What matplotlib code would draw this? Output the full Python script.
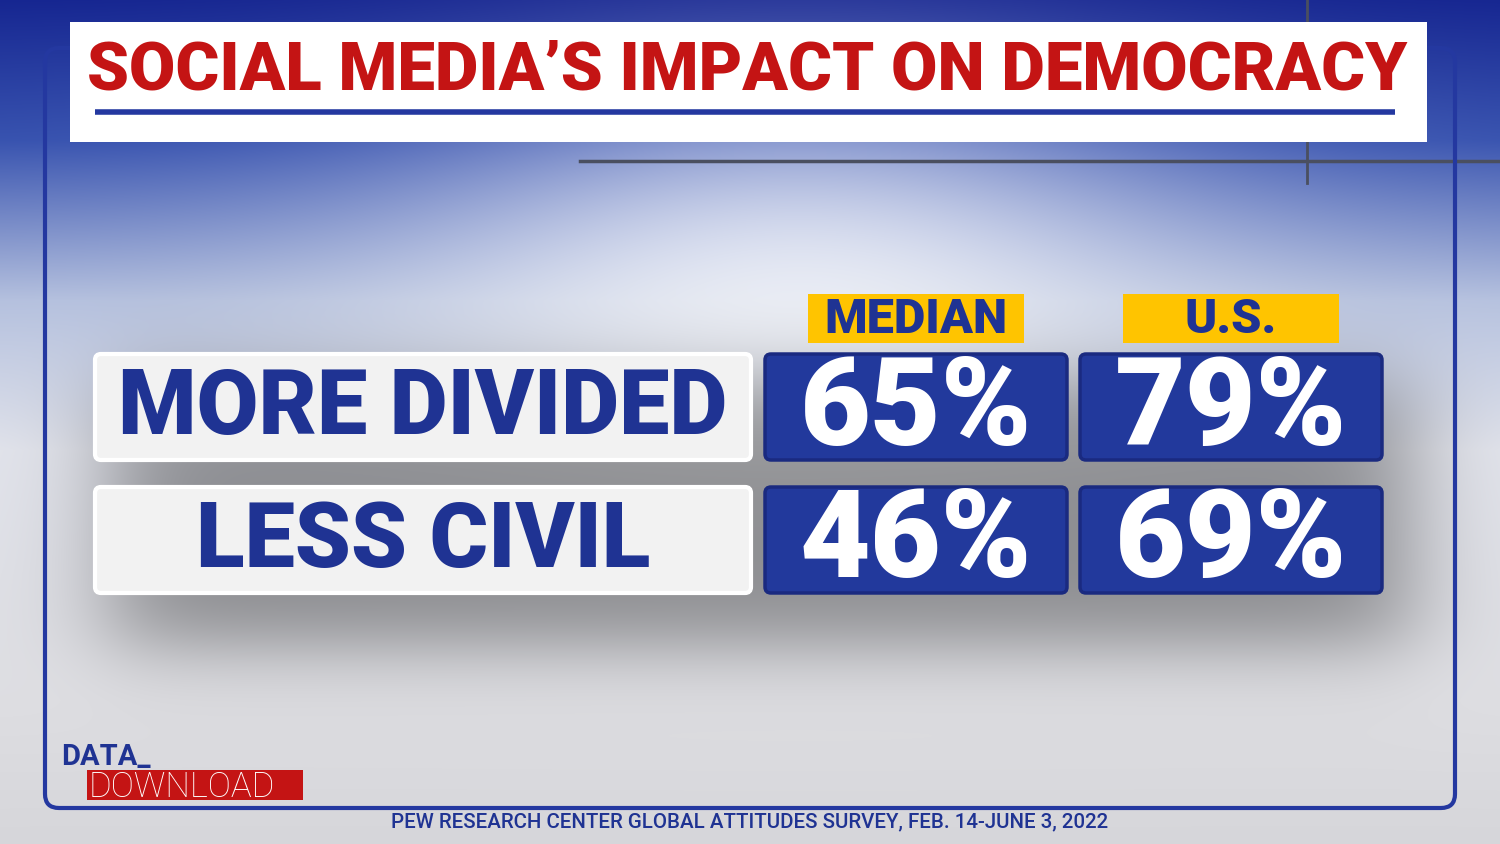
import numpy as np
import matplotlib
matplotlib.use("Agg")
import matplotlib.pyplot as plt
from matplotlib.patches import FancyBboxPatch, Rectangle

# data
title = "SOCIAL MEDIA\u2019S IMPACT ON DEMOCRACY"
columns = ["MEDIAN", "U.S."]
rows = ["MORE DIVIDED", "LESS CIVIL"]
values = [[65, 79],
          [46, 69]]
source = "PEW RESEARCH CENTER GLOBAL ATTITUDES SURVEY, FEB. 14-JUNE 3, 2022"

NAVY = "#1f3393"
RED = "#c41414"
YELLOW = "#ffc400"

W, H = 1500, 844
fig = plt.figure(figsize=(15, 8.44), dpi=100)
ax = fig.add_axes([0, 0, 1, 1])
ax.set_xlim(0, W)
ax.set_ylim(H, 0)
ax.axis("off")

# background: blue at the top fading to light grey, glow in the middle
yy = np.arange(H)[:, None].astype(float)
xx = np.arange(W)[None, :].astype(float)
stops_y = [0, 140, 300, 450, 700, 844]
stops_c = np.array([[22, 38, 145], [55, 82, 175], [180, 192, 222],
                    [226, 228, 236], [222, 222, 226], [214, 214, 218]]) / 255.0
bg = np.zeros((H, W, 3))
for k in range(3):
    bg[:, :, k] = np.interp(yy[:, 0], stops_y, stops_c[:, k])[:, None]
glow = np.exp(-(((xx - 800) / 400) ** 2 + ((yy - 300) / 210) ** 2))
bg = bg + (1 - bg) * 0.75 * glow[:, :, None]
sig = lambda t: 1 / (1 + np.exp(-t))
shadow = (sig((xx - 110) / 30) * sig((1410 - xx) / 30) *
          sig((yy - 380) / 25) * sig((645 - yy) / 22))
bg = bg * (1 - 0.38 * shadow[:, :, None])
bg = np.clip(bg, 0, 1)
ax.imshow(bg, extent=(0, W, H, 0), aspect="auto", zorder=0)

# decorative lines
ax.plot([580, W], [161, 161], color="#4a4f60", lw=2.5, zorder=1)
ax.plot([1307, 1307], [0, 183], color="#4a4f60", lw=2, zorder=1)

# blue frame
frame = FancyBboxPatch((45, 48), 1410, 760, boxstyle="round,pad=0,rounding_size=14",
                       fc="none", ec="#2438a0", lw=3, zorder=2)
ax.add_patch(frame)

# title box
ax.add_patch(Rectangle((70, 22), 1357, 120, fc="white", ec="none", zorder=3))
ax.plot([95, 1395], [112, 112], color="#2438a0", lw=4, solid_capstyle="butt", zorder=4)
ax.text(747, 72, title, color=RED, fontsize=48.3, fontweight="black",
        family="Roboto", ha="center", va="center", zorder=4)

# table layout
label_x0, label_w = 95, 656
col_x0 = [765, 1080]
col_w = 302
row_y0 = [354, 487]
row_h = 106

for j, col in enumerate(columns):
    cx = col_x0[j] + col_w / 2
    ax.add_patch(Rectangle((cx - 108, 294), 216, 49, fc=YELLOW, ec="none", zorder=3))
    ax.text(cx, 320, col, color=NAVY, fontsize=35, fontweight="black",
            family="Roboto", ha="center", va="center", zorder=4)

for i, row in enumerate(rows):
    y0 = row_y0[i]
    ax.add_patch(FancyBboxPatch((label_x0, y0), label_w, row_h,
                                boxstyle="round,pad=0,rounding_size=6",
                                fc="#f2f2f2", ec="white", lw=3, zorder=3))
    ax.text(label_x0 + label_w / 2, y0 + row_h / 2 + 2, row, color=NAVY,
            fontsize=64.5, fontweight="black", family="Roboto",
            ha="center", va="center", zorder=4)
    for j in range(len(columns)):
        ax.add_patch(FancyBboxPatch((col_x0[j], y0), col_w, row_h,
                                    boxstyle="round,pad=0,rounding_size=6",
                                    fc="#22399c", ec="#1a2a80", lw=2.5, zorder=3))
        ax.text(col_x0[j] + col_w / 2, y0 + row_h / 2 + 4, f"{values[i][j]}%",
                color="white", fontsize=88, fontweight="black", family="Roboto",
                ha="center", va="center", zorder=4)

# logo
ax.text(61, 757, "DATA_", color=NAVY, fontsize=21, fontweight="bold",
        family="Roboto", ha="left", va="center", zorder=4)
ax.add_patch(Rectangle((87, 770), 216, 30, fc=RED, ec="none", zorder=3))
ax.text(89, 787, "DOWNLOAD", color="white", fontsize=25, fontweight="light",
        family="Roboto", ha="left", va="center", zorder=4)

# source
ax.text(750, 822, source, color=NAVY, fontsize=14.8, fontweight="medium",
        family="Roboto", ha="center", va="center", zorder=4)

fig.savefig("out.png", dpi=100)
